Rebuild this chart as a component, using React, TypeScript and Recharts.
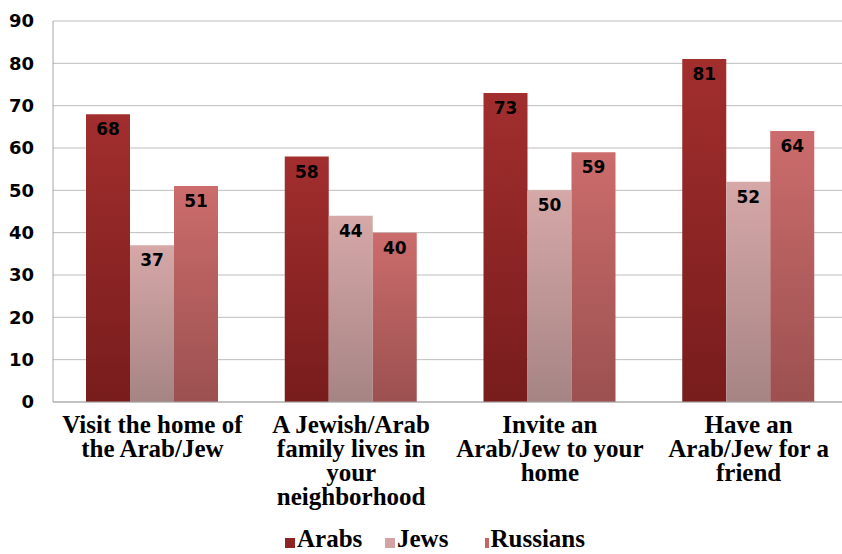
import React from 'react';
import { BarChart, Bar, XAxis, YAxis, CartesianGrid, Legend, LabelList } from 'recharts';

const categories = [
  'Visit the home of the Arab/Jew',
  'A Jewish/Arab family lives in your neighborhood',
  'Invite an Arab/Jew to your home',
  'Have an Arab/Jew for a friend',
];
// how each category label wraps in the picture
const categoryLines = [
  ['Visit the home of', 'the Arab/Jew'],
  ['A Jewish/Arab', 'family lives in', 'your', 'neighborhood'],
  ['Invite an', 'Arab/Jew to your', 'home'],
  ['Have an', 'Arab/Jew for a', 'friend'],
];
const arabs = [68, 58, 73, 81];
const jews = [37, 44, 50, 52];
const russians = [51, 40, 59, 64];
const yTicks = [0, 10, 20, 30, 40, 50, 60, 70, 80, 90];

const data = categories.map((name, i) => ({
  name,
  Arabs: arabs[i],
  Jews: jews[i],
  Russians: russians[i],
}));

const series = [
  { key: 'Arabs', grad: 'gArabs', top: '#a22e2e', bottom: '#781c1c', swatch: '#8e2424' },
  { key: 'Jews', grad: 'gJews', top: '#d6a8a8', bottom: '#a68484', swatch: '#d4a4a4' },
  { key: 'Russians', grad: 'gRussians', top: '#cc6c6c', bottom: '#9c5050', swatch: '#c46464' },
];

const serif = "'Liberation Serif', 'Times New Roman', serif";
const sans = "'DejaVu Sans', Verdana, sans-serif";

const CategoryTick = (props: any) => {
  const { x, y, payload } = props;
  const idx = categories.indexOf(payload.value);
  const lines = categoryLines[idx] || [payload.value];
  return (
    <text x={x} y={y} textAnchor="middle" style={{ fontFamily: serif, fontWeight: 'bold', fontSize: 25 }} fill="#000">
      {lines.map((l: string, i: number) => (
        <tspan key={i} x={x} dy={i === 0 ? 31 : 24}>{l}</tspan>
      ))}
    </text>
  );
};

// legend entries sit on a fixed 100px pitch, as in the original
const LegendContent = () => (
  <div style={{ display: 'flex', justifyContent: 'flex-start', alignItems: 'center', height: 30, paddingLeft: 285 }}>
    {series.map((s) => (
      <div key={s.key} style={{ display: 'flex', alignItems: 'center', width: 100 }}>
        <span style={{ display: 'inline-block', width: 10, height: 10, background: s.swatch, marginRight: 2, marginTop: 7 }} />
        <span style={{ fontFamily: serif, fontWeight: 'bold', fontSize: 25, color: '#000', lineHeight: '30px', whiteSpace: 'nowrap' }}>{s.key}</span>
      </div>
    ))}
  </div>
);

export default function App() {
  return (
    <div style={{ position: 'absolute', left: 0, top: 0, width: 842, height: 554, overflow: 'hidden', background: '#fff' }}>
      <BarChart
        width={850}
        height={554}
        data={data}
        margin={{ top: 21, right: 2, left: 0, bottom: 0 }}
        barSize={44}
        barGap={0}
      >
        <defs>
          {series.map((s) => (
            <linearGradient key={s.grad} id={s.grad} x1="0" y1="0" x2="0" y2="1">
              <stop offset="0%" stopColor={s.top} />
              <stop offset="100%" stopColor={s.bottom} />
            </linearGradient>
          ))}
        </defs>
        <CartesianGrid vertical={false} stroke="#bdbdbd" strokeWidth={1} />
        <XAxis
          dataKey="name"
          axisLine={{ stroke: '#a6a6a6' }}
          tickLine={false}
          tickSize={0}
          tickMargin={0}
          interval={0}
          height={122}
          tick={(p: any) => <CategoryTick {...p} />}
        />
        <YAxis
          domain={[0, 90]}
          ticks={yTicks}
          width={53}
          axisLine={{ stroke: '#a6a6a6' }}
          tickLine={false}
          tickSize={0}
          tickMargin={19}
          tick={{ fill: '#000', fontFamily: sans, fontWeight: 'bold', fontSize: 18 }}
        />
        <Legend verticalAlign="bottom" height={30} content={() => <LegendContent />} />
        {series.map((s) => (
          <Bar key={s.key} dataKey={s.key} fill={`url(#${s.grad})`} isAnimationActive={false}>
            <LabelList
              dataKey={s.key}
              position="insideTop"
              offset={9}
              fill="#000"
              fontFamily={sans}
              fontWeight="bold"
              fontSize={17}
            />
          </Bar>
        ))}
      </BarChart>
    </div>
  );
}
